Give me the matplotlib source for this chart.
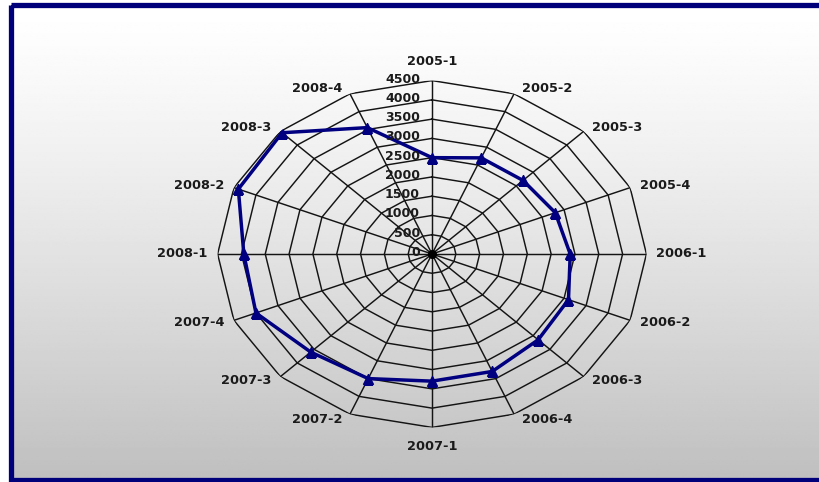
import numpy as np
import matplotlib
matplotlib.use("Agg")
import matplotlib.pyplot as plt
from matplotlib.patches import Rectangle

# Quarterly series, clockwise from the top
categories = ["2005-1", "2005-2", "2005-3", "2005-4",
              "2006-1", "2006-2", "2006-3", "2006-4",
              "2007-1", "2007-2", "2007-3", "2007-4",
              "2008-1", "2008-2", "2008-3", "2008-4"]
values = [2500, 2700, 2700, 2800,
          2900, 3100, 3150, 3300,
          3300, 3500, 3600, 4000,
          3950, 4400, 4450, 3550]

# Radial scale
ring_values = [0, 500, 1000, 1500, 2000, 2500, 3000, 3500, 4000, 4500]
ring_labels = [str(v) for v in ring_values]
r_max = 4500

W, H = 819, 482
fig = plt.figure(figsize=(W / 100, H / 100), dpi=100)
fig.patch.set_facecolor("white")

# Framed panel with a vertical white-to-grey gradient
bg = fig.add_axes([0, 0, 1, 1])
bg.set_xlim(0, W)
bg.set_ylim(H, 0)
bg.axis("off")
ramp = np.linspace(0.0, 1.0, 256)
shade = 1.0 - 0.25 * ramp ** 1.25
img = np.repeat(shade[:, None], 2, axis=1)
bg.imshow(img, cmap="gray", vmin=0, vmax=1, aspect="auto",
          extent=[10.5, W + 10, H - 2.5, 4.5], interpolation="bilinear")
bg.add_patch(Rectangle((10.5, 4.5), W + 10, H - 7, fill=False,
                       edgecolor="#00007a", lw=3.8))

# Radar axes (stretched horizontally, so aspect is left free)
ax = fig.add_axes([0.2657, 0.1133, 0.5236, 0.7195], projection="polar")
ax.set_aspect("auto")
ax.set_theta_zero_location("N")
ax.set_theta_direction(-1)
ax.set_ylim(0, r_max)
ax.grid(False)
ax.set_xticks([])
ax.set_yticks([])
ax.spines["polar"].set_visible(False)
ax.patch.set_alpha(0)

n = len(categories)
theta = np.arange(n) * 2 * np.pi / n
closed = np.append(theta, theta[0])

grid_kw = dict(color="#141414", lw=1.05, zorder=1)
for r in ring_values[1:]:
    ax.plot(closed, [r] * (n + 1), **grid_kw)
for t in theta:
    ax.plot([t, t], [0, r_max], **grid_kw)
ax.plot([0], [0], "o", color="black", ms=5.5, zorder=2)

# Data series
ax.plot(closed, values + values[:1], color="#000080", lw=2.5, zorder=3)
ax.plot(theta, values, linestyle="none", marker="^", ms=7.5,
        color="#000080", zorder=4)

text_kw = dict(fontsize=9.3, fontweight="bold", color="#1a1a1a",
               family="DejaVu Sans", annotation_clip=False)

# Category labels around the outer ring
for t, lab in zip(theta, categories):
    s, c = np.sin(t), np.cos(t)
    if abs(s) < 0.1:
        ha = "center"
        va = "bottom" if c > 0 else "top"
        dx, dy = 0, 13 * np.sign(c)
    else:
        ha = "left" if s > 0 else "right"
        va = "center"
        dx = np.sign(s) * (6 + 4 * abs(s))
        dy = 6 * c
    ax.annotate(lab, xy=(t, r_max), xytext=(dx, dy),
                textcoords="offset pixels", ha=ha, va=va, **text_kw)

# Radial value labels along the top spoke
for v, lab in zip(ring_values, ring_labels):
    ax.annotate(lab, xy=(0, v), xytext=(-12, 1.5),
                textcoords="offset pixels", ha="right", va="center",
                **dict(text_kw, fontsize=9))

fig.savefig("out.png", dpi=100)
